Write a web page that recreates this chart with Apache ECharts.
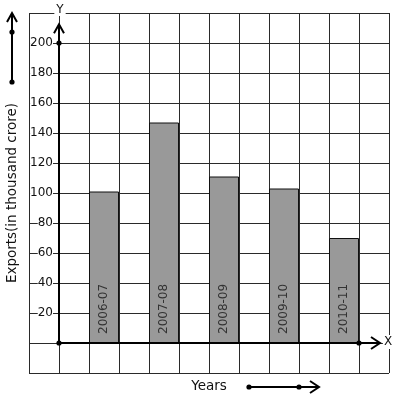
<!DOCTYPE html>
<html>
<head>
<meta charset="utf-8">
<title>Exports</title>
<script src="https://cdn.jsdelivr.net/npm/echarts@6/dist/echarts.min.js"></script>
<style>
  html, body { margin: 0; padding: 0; background: #fff; }
  #main { width: 397px; height: 399px; }
</style>
</head>
<body>
<div id="main"></div>
<script>
// data
const years = ['2006-07', '2007-08', '2008-09', '2009-10', '2010-11'];
const exportsVal = [101, 147, 111, 103, 70];
const yTicks = [20, 40, 60, 80, 100, 120, 140, 160, 180, 200];

// every year sits in every second grid column, starting from column 2
const slots = [];
const slotVals = [];
for (let i = 0; i < 12; i++) {
  const k = (i - 2) / 2;
  if (i >= 2 && i % 2 === 0 && k < years.length) {
    slots.push(years[k]);
    slotVals.push(exportsVal[k]);
  } else {
    slots.push('s' + i);
    slotVals.push('-');
  }
}

const font = 'DejaVu Sans';
const myChart = echarts.init(document.getElementById('main'), null, { renderer: 'canvas' });

const option = {
  animation: false,
  backgroundColor: '#fff',
  grid: { left: 29, top: 13, width: 360, height: 360, containLabel: false, outerBoundsMode: 'none' },
  xAxis: [
    {
      type: 'value',
      min: -1,
      max: 11,
      interval: 1,
      axisLine: { show: false, onZero: false },
      axisTick: { show: false },
      axisLabel: { show: false },
      splitLine: { show: true, lineStyle: { color: '#2a2a2a', width: 1 } }
    },
    {
      type: 'category',
      data: slots,
      boundaryGap: true,
      position: 'bottom',
      axisLine: { show: false, onZero: false },
      axisTick: { show: false },
      axisLabel: { show: false },
      splitLine: { show: false },
      name: 'Years',
      nameLocation: 'middle',
      nameGap: 6,
      nameTextStyle: { fontFamily: font, fontSize: 13.5, color: '#111', verticalAlign: 'top' }
    }
  ],
  yAxis: [
    {
      type: 'value',
      min: -20,
      max: 220,
      interval: 20,
      position: 'left',
      axisLine: { show: false, onZero: false },
      axisTick: { show: false },
      axisLabel: {
        inside: true,
        align: 'right',
        margin: 24,
        fontFamily: font,
        fontSize: 12,
        color: '#111',
        backgroundColor: '#fff',
        formatter: function (v) { return yTicks.indexOf(v) >= 0 ? String(v) : ''; }
      },
      splitLine: { show: true, lineStyle: { color: '#2a2a2a', width: 1 } },
      name: 'Exports(in thousand crore)',
      nameLocation: 'middle',
      nameGap: 10,
      nameTextStyle: { fontFamily: font, fontSize: 13.5, color: '#111' }
    }
  ],
  series: [
    {
      type: 'bar',
      xAxisIndex: 1,
      yAxisIndex: 0,
      data: slotVals,
      barWidth: '100%',
      itemStyle: { color: '#999999', borderColor: '#111', borderWidth: 1 },
      label: {
        show: true,
        position: 'insideBottom',
        rotate: 90,
        align: 'left',
        verticalAlign: 'middle',
        distance: 9,
        formatter: '{b}',
        fontFamily: font,
        fontSize: 12,
        color: '#333'
      },
      z: 3
    }
  ]
};
myChart.setOption(option);

// axis arrows, axis letters and the little arrows outside the frame
const xEnd = 10.7, yEnd = 212.5, xDot = 10, yDot = 200;
const px = (v) => myChart.convertToPixel({ xAxisIndex: 0, yAxisIndex: 0 }, v);
const o = px([0, 0]);
const xe = px([xEnd, 0]);
const ye = px([0, yEnd]);
const xd = px([xDot, 0]);
const yd = px([0, yDot]);
const xr = px([11, 0]);
const yt = px([0, 220]);

function arrow(from, to, dots, dir) {
  const els = [];
  const st = { stroke: '#000', lineWidth: 2, fill: null };
  els.push({ type: 'polyline', z: 100, shape: { points: [from, to] }, style: st });
  let arms;
  if (dir === 'up') arms = [[to[0] - 5, to[1] + 9], to, [to[0] + 5, to[1] + 9]];
  else arms = [[to[0] - 9, to[1] - 6], to, [to[0] - 9, to[1] + 6]];
  els.push({ type: 'polyline', z: 100, shape: { points: arms }, style: st });
  dots.forEach(function (d) {
    els.push({ type: 'circle', z: 101, shape: { cx: d[0], cy: d[1], r: 2.6 }, style: { fill: '#000' } });
  });
  return els;
}

let g = [];
g = g.concat(arrow(o, ye, [o, yd], 'up'));
g = g.concat(arrow(o, xe, [xd], 'right'));
g = g.concat(arrow([12, 82], [12, 13], [[12, 82], [12, 32]], 'up'));
g = g.concat(arrow([249, 387], [319, 387], [[249, 387], [299, 387]], 'right'));
g.push({
  type: 'text', z: 102, x: yt[0] + 1, y: yt[1] - 3,
  style: { text: 'Y', font: '12px "DejaVu Sans"', fill: '#111', align: 'center', verticalAlign: 'middle', backgroundColor: '#fff', padding: [0, 2] }
});
g.push({
  type: 'text', z: 102, x: xr[0] - 1, y: xr[1] - 1,
  style: { text: 'X', font: '12px "DejaVu Sans"', fill: '#111', align: 'center', verticalAlign: 'middle', backgroundColor: '#fff', padding: [1, 1] }
});

myChart.setOption({ graphic: { elements: g } });
</script>
</body>
</html>
